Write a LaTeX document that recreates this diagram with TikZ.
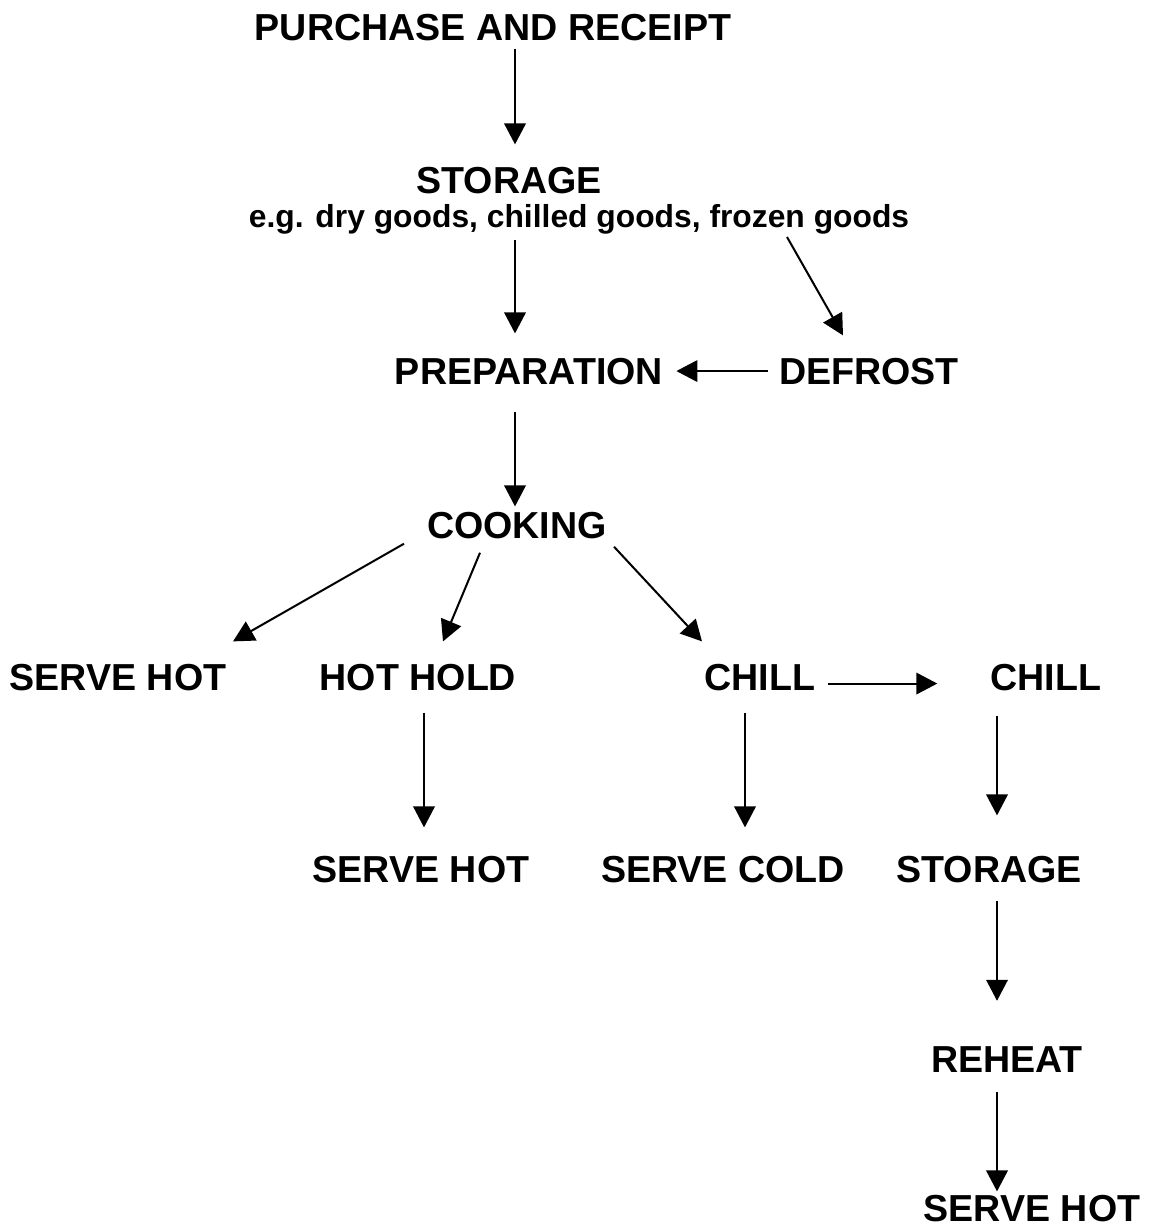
\documentclass[tikz,border=0pt]{standalone}
\usepackage{fontspec}
\setmainfont{Liberation Sans}
\usetikzlibrary{arrows.meta,calc}

\begin{document}
\begin{tikzpicture}[x=0.02cm,y=-0.02cm,
  lbl/.style={anchor=base,inner sep=0pt,font=\fontsize{21.4}{26}\selectfont\bfseries},
  arr/.style={line width=1.15pt,-{Triangle[length=0.42cm,width=0.43cm]}}]
\useasboundingbox (0,0) rectangle (1155,1229);
% stages
\node[lbl] (buy) at (493,41) {PURCHASE AND RECEIPT};
\node[lbl] (store) at (509,194) {STORAGE};
\node[lbl,font=\fontsize{18.1}{22}\selectfont\bfseries] (storenote) at (579,228) {e.g. dry goods, chilled goods, frozen goods};
\node[lbl] (prep) at (529,384) {PREPARATION};
\node[lbl] (defrost) at (869,384) {DEFROST};
\node[lbl] (cook) at (517,538) {COOKING};
\node[lbl] (servehot) at (118,690) {SERVE HOT};
\node[lbl] (hothold) at (418,690) {HOT HOLD};
\node[lbl] (chill) at (760,690) {CHILL};
\node[lbl] (chilltwo) at (1046,690) {CHILL};
\node[lbl] (holdserve) at (421,882) {SERVE HOT};
\node[lbl] (servecold) at (723,882) {SERVE COLD};
\node[lbl] (storetwo) at (989,882) {STORAGE};
\node[lbl] (reheat) at (1007,1072) {REHEAT};
\node[lbl] (reheatserve) at (1032,1221) {SERVE HOT};
% flow
\draw[arr] ($(buy.south)+(22,7)$) -- ($(store.north)+(6,-23)$);
\draw[arr] ($(storenote.base)+(-64,12)$) -- ($(prep.north)+(-14,-24)$);
\draw[arr] ($(storenote.base)+(208,9)$) -- ($(defrost.north)+(-26,-22)$);
\draw[arr] ($(defrost.west)+(-11,0)$) -- ($(prep.east)+(13,0)$);
\draw[arr] ($(prep.south)+(-14,27)$) -- ($(cook.north)+(-2,-5)$);
\draw[arr] ($(cook.south)+(-113,5)$) -- ($(servehot.north)+(115,-22)$);
\draw[arr] ($(cook.south)+(-37,14)$) -- ($(hothold.north)+(25,-22)$);
\draw[arr] ($(cook.south)+(97,8)$) -- ($(chill.north)+(-58,-22)$);
\draw[arr] ($(chill.east)+(12,6.5)$) -- ($(chilltwo.west)+(-53,6.5)$);
\draw[arr] ($(hothold.south)+(6,22)$) -- ($(holdserve.north)+(3,-28)$);
\draw[arr] ($(chill.south)+(-15,22)$) -- ($(servecold.north)+(22,-28)$);
\draw[arr] ($(chilltwo.south)+(-49,25)$) -- ($(storetwo.north)+(8,-40)$);
\draw[arr] ($(storetwo.south)+(8,18)$) -- ($(reheat.north)+(-10,-45)$);
\draw[arr] ($(reheat.south)+(-10,20)$) -- ($(reheatserve.north)+(-35,-3)$);
\end{tikzpicture}
\end{document}
